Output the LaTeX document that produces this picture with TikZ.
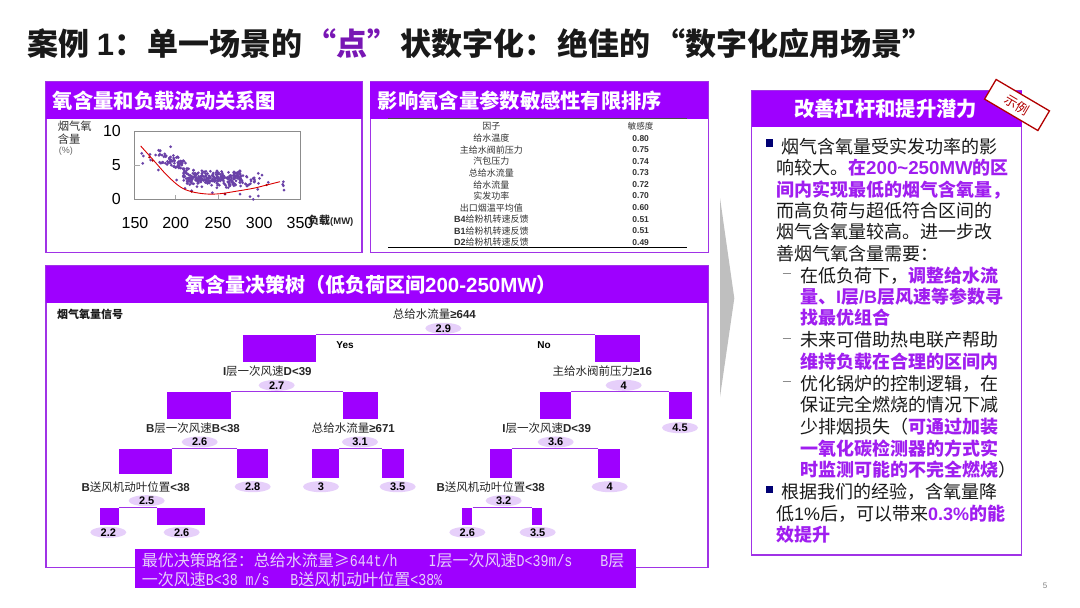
\documentclass[tikz,border=0pt]{standalone}
\usepackage{fontspec}
\usepackage{xcolor}
\usepackage{tikz}
\usetikzlibrary{shapes.geometric, positioning}
\setmainfont{Noto Sans CJK SC}
\newfontfamily\latfont{Liberation Sans}
\newfontfamily\pathfont[FakeStretch=0.8]{Liberation Mono}
\newcommand{\lat}[1]{{\latfont #1}}
\newcommand{\pth}[1]{{\pathfont\fsz{16.6}#1}}
\newcommand{\fsz}[1]{\fontsize{#1}{#1}\selectfont}
\newcommand{\hl}[1]{\textcolor{hlpurple}{\bfseries #1}}
\definecolor{brandpurple}{HTML}{9E00FF}
\definecolor{hlpurple}{HTML}{A01EF0}
\definecolor{edgepurple}{HTML}{A033E6}
\definecolor{ovalfill}{HTML}{E6CFFA}
\definecolor{dotpurple}{HTML}{6A42A8}

\begin{document}
\begin{tikzpicture}[x=1pt, y=-1pt,
            panelbox/.style ={rectangle, draw=edgepurple, line width=1.5pt, fill=white, inner sep=0pt},
            panelhead/.style={rectangle, fill=brandpurple, inner sep=0pt},
            headtext/.style ={text=white, font=\fsz{20.3}\bfseries, inner sep=0pt},
            barbox/.style   ={rectangle, fill=brandpurple, inner sep=0pt},
            link/.style     ={draw=edgepurple, line width=0.8pt},
            valoval/.style  ={ellipse, fill=ovalfill, minimum width=36pt, minimum height=11pt, inner sep=0pt, font=\fsz{11}\latfont\bfseries},
            splitlabel/.style={inner sep=0pt, font=\fsz{11.5}, text=black!85},
            tabletext/.style={inner sep=0pt, font=\fsz{9}, text=black!80},
            bodyline/.style ={anchor=west, inner sep=0pt, font=\fsz{18}, text=black!90, text height=16pt, text depth=2.4pt},
            axisnum/.style  ={inner sep=0pt, font=\fsz{16}\latfont}
        ]
            \useasboundingbox (0,0) rectangle (1080,608);

            % --- Titulo ---
            \node[anchor=west, inner sep=0pt, font=\fsz{31}\bfseries, text=black!90] (maintitle) at (27.5,44)
                {案例 \lat{1}：\hspace{2pt}单一场景的\hspace{3pt}\textcolor{hlpurple!75!black}{“点”}\hspace{2.7pt}状数字化：\hspace{2pt}绝佳的\hspace{4pt}“数字化应用场景”};

            % --- Paneles ---
            \node[panelbox, minimum width=316pt, minimum height=170.5pt] (chartpanel) at (204,167) {};
            \node[panelhead, minimum width=316pt, minimum height=37pt] (charthead) at (204,100.3) {};
            \node[headtext, anchor=west] (charttitle) at (52.7,100.5) {氧含量和负载波动关系图};

            \node[panelbox, minimum width=338pt, minimum height=170.5pt] (tablepanel) at (539.3,167) {};
            \node[panelhead, minimum width=338pt, minimum height=37pt] (tablehead) at (539.3,100.3) {};
            \node[headtext, anchor=west] (tabletitle) at (377.7,100.5) {影响氧含量参数敏感性有限排序};

            \node[panelbox, minimum width=662pt, minimum height=301.3pt] (treepanel) at (377,416.7) {};
            \node[panelhead, minimum width=662pt, minimum height=37.3pt] (treehead) at (377,284.7) {};
            \node[headtext, font=\fsz{20}\bfseries] (treetitle) at (371,285) {氧含量决策树（低负荷区间\lat{\fsz{20.5}200-250MW}）};

            \node[panelbox, minimum width=270pt, minimum height=464.3pt] (leverpanel) at (886.7,322.9) {};
            \node[panelhead, minimum width=270pt, minimum height=36.6pt] (leverhead) at (886.7,109) {};
            \node[headtext] (levertitle) at (885.7,109) {改善杠杆和提升潜力};

            % --- Flecha ---
            \fill[black!25] (720,198) -- (734.3,298.3) -- (720,397) -- cycle;

            % --- Grafico ---
            \node[rectangle, draw=black!45, line width=0.9pt, minimum width=166.4pt, minimum height=68.3pt, inner sep=0pt] (plotframe) at (217.5,165.2) {};
            \draw[black!35, line width=0.8pt] (134.3,165.3) -- (140,165.3);
            \draw[black!35, line width=0.8pt] (175.7,199.3) -- (175.7,194.5);
            \draw[black!35, line width=0.8pt] (218,199.3) -- (218,194.5);

            \pgfmathsetseed{1234}
            % nube izquierda
            \foreach \i in {1,...,70}{
                \pgfmathsetmacro{\zx}{127+42*rand}
                \pgfmathsetmacro{\zy}{95+(\zx-85)*0.35+20*rand}
                \fill[dotpurple] (130+\zx/3,125+\zy/3) circle (1.5);
            }
            % nube central
            \foreach \i in {1,...,270}{
                \pgfmathsetmacro{\zx}{250+90*rand}
                \pgfmathsetmacro{\zy}{157+(\zx-160)*0.02+16*rand+14*rand}
                \fill[dotpurple] (130+\zx/3,125+\zy/3) circle (1.5);
            }
            % nube derecha
            \foreach \i in {1,...,18}{
                \pgfmathsetmacro{\zx}{365+28*rand}
                \pgfmathsetmacro{\zy}{170+16*rand}
                \fill[dotpurple] (130+\zx/3,125+\zy/3) circle (1.5);
            }
            % puntos sueltos
            \foreach \zx/\zy in {122/65, 35/85, 40/93, 60/88, 62/105, 38/115, 77/90, 85/135, 140/165, 165/190, 185/197, 247/203,
                                 285/207, 330/207, 360/215, 370/223, 385/213, 383/193, 460/170, 460/182, 462/195, 458/178, 415/172, 396/150, 385/145}{
                \fill[dotpurple] (130+\zx/3,125+\zy/3) circle (1.5);
            }
            \draw[red!85!black, line width=0.9pt] plot[smooth, tension=0.6] coordinates
                {(140.7,146) (153.3,160) (166.7,175) (180,186.7) (191.7,191.7) (206.7,194) (220,193.7) (233.3,191.7) (253.3,188.3) (266.7,185) (280,181.7)};
            \foreach \zx/\zy in {58/97, 68/107, 185/200, 285/207, 410/180}{
                \fill[red!70!black] (130+\zx/3,125+\zy/3) circle (1.2);
            }

            % --- Ejes del grafico ---
            \node[axisnum, anchor=east] (ytick10) at (121,130.7) {10};
            \node[axisnum, anchor=east] (ytick5)  at (121,165.3) {5};
            \node[axisnum, anchor=east] (ytick0)  at (121,199.3) {0};
            \node[axisnum] (xtick150) at (135,222.7)   {150};
            \node[axisnum] (xtick200) at (175.7,222.7) {200};
            \node[axisnum] (xtick250) at (218,222.7)   {250};
            \node[axisnum] (xtick300) at (259.3,222.7) {300};
            \node[axisnum] (xtick350) at (300,222.7)   {350};
            \node[inner sep=0pt, anchor=west, font=\fsz{11.3}, text=black!80] (ylabela) at (57.7,126.7) {烟气氧};
            \node[inner sep=0pt, anchor=west, font=\fsz{11.3}, text=black!80] (ylabelb) at (57.7,139.3) {含量};
            \node[inner sep=0pt, anchor=west, font=\fsz{9}\latfont, text=black!60] (ylabelc) at (58.7,151) {(\%)};
            \node[inner sep=0pt, anchor=west, font=\fsz{11}\bfseries, text=black!85] (xlabel) at (308,220.7) {负载\lat{\fsz{9.5}(MW)}};

            % --- Tabla ---
            \draw[black!70, line width=0.9pt] (388.3,118.6) -- (687,118.6);
            \draw[black, line width=0.9pt] (388.3,247.7) -- (687,247.7);
            \foreach \n/\rowy/\factor/\val in {
                0/126/{因子}/{敏感度},
                1/138.3/{给水温度}/0.80,
                2/150/{主给水阀前压力}/0.75,
                3/161.3/{汽包压力}/0.74,
                4/173/{总给水流量}/0.73,
                5/184.7/{给水流量}/0.72,
                6/196/{实发功率}/0.70,
                7/207.7/{出口烟温平均值}/0.60,
                8/219.3/{\lat{\bfseries B4}给粉机转速反馈}/0.51,
                9/230.7/{\lat{\bfseries B1}给粉机转速反馈}/0.51,
                10/242.3/{\lat{\bfseries D2}给粉机转速反馈}/0.49}{
                \node[tabletext] (factor\n) at (491.3,\rowy) {\factor};
                \node[tabletext, font=\fsz{8.5}] (score\n) at (640.7,\rowy) {\ifnum\n=0 \val\else\lat{\bfseries\val}\fi};
            }

            % --- Arbol de decision ---
            \node[inner sep=0pt, anchor=west, font=\fsz{11}\bfseries, text=black!90] (signal) at (57,314) {烟气氧量信号};

            \node[barbox, minimum width=72.7pt, minimum height=27.6pt] (yesbar) at (279.7,348.5) {};
            \node[barbox, minimum width=44.7pt, minimum height=27.6pt] (nobar)  at (617.7,348.5) {};
            \draw[link] (yesbar.north east) -- (nobar.north west);
            \node[splitlabel] (rootlabel) at (434.3,314) {总给水流量\lat{\bfseries ≥644}};
            \node[valoval] (rootval) at (443.3,328.3) {2.9};
            \node[inner sep=0pt, font=\fsz{10}\latfont\bfseries] (yestext) at (345,345.3) {Yes};
            \node[inner sep=0pt, font=\fsz{10}\latfont\bfseries] (notext)  at (544,345.3) {No};

            % rama Yes
            \node[splitlabel] (lbla) at (267.3,371) {\lat{\bfseries I}层一次风速\lat{\bfseries D<39}};
            \node[valoval] (vala) at (276.7,385.3) {2.7};
            \node[barbox, minimum width=64pt, minimum height=27.3pt] (barab) at (198.7,405.3) {};
            \node[barbox, minimum width=35pt, minimum height=27.3pt] (barac) at (360.8,405.3) {};
            \draw[link] (barab.north east) -- (barac.north west);

            \node[splitlabel] (lblb) at (193,427.7) {\lat{\bfseries B}层一次风速\lat{\bfseries B<38}};
            \node[valoval] (valb) at (199.7,442) {2.6};
            \node[barbox, minimum width=52.7pt, minimum height=25.6pt] (barbb) at (145.3,461.5) {};
            \node[barbox, minimum width=31.3pt, minimum height=29.6pt] (barbc) at (252.7,463.5) {};
            \draw[link] (barbb.north east) -- (barbc.north west);
            \node[valoval] (valbc) at (252.7,486.7) {2.8};

            \node[splitlabel] (lblc) at (353.3,427.7) {总给水流量\lat{\bfseries ≥671}};
            \node[valoval] (valc) at (360,442) {3.1};
            \node[barbox, minimum width=26.7pt, minimum height=29.6pt] (barcb) at (325.3,463.5) {};
            \node[barbox, minimum width=22pt, minimum height=29.6pt] (barcc) at (393.3,463.5) {};
            \draw[link] (barcb.north east) -- (barcc.north west);
            \node[valoval] (valcb) at (321,486.7) {3};
            \node[valoval] (valcc) at (397.7,486.7) {3.5};

            \node[splitlabel] (lbld) at (135.7,486.7) {\lat{\bfseries B}送风机动叶位置\lat{\bfseries <38}};
            \node[valoval] (vald) at (146.7,500.7) {2.5};
            \node[barbox, minimum width=19.3pt, minimum height=17pt] (bardb) at (109.3,516.2) {};
            \node[barbox, minimum width=48.3pt, minimum height=17pt] (bardc) at (181.2,516.2) {};
            \draw[link] (bardb.north east) -- (bardc.north west);
            \node[valoval] (valdb) at (108.3,532.3) {2.2};
            \node[valoval] (valdc) at (181.7,532.3) {2.6};

            % rama No
            \node[splitlabel] (lble) at (602.3,371) {主给水阀前压力\lat{\bfseries ≥16}};
            \node[valoval] (vale) at (623.7,385.3) {4};
            \node[barbox, minimum width=30.7pt, minimum height=27.3pt] (bareb) at (555.7,405.3) {};
            \node[barbox, minimum width=23pt, minimum height=27.3pt] (barec) at (680.5,405.3) {};
            \draw[link] (bareb.north east) -- (barec.north west);
            \node[valoval] (valec) at (680,427.7) {4.5};

            \node[splitlabel] (lblf) at (546.7,427.7) {\lat{\bfseries I}层一次风速\lat{\bfseries D<39}};
            \node[valoval] (valf) at (555.7,442) {3.6};
            \node[barbox, minimum width=21.7pt, minimum height=29.6pt] (barfb) at (500.8,463.5) {};
            \node[barbox, minimum width=21.7pt, minimum height=29.6pt] (barfc) at (608.8,463.5) {};
            \draw[link] (barfb.north east) -- (barfc.north west);
            \node[valoval] (valfc) at (609.7,486.7) {4};

            \node[splitlabel] (lblg) at (490.7,486.7) {\lat{\bfseries B}送风机动叶位置\lat{\bfseries <38}};
            \node[valoval] (valg) at (503.7,500.7) {3.2};
            \node[barbox, minimum width=10.6pt, minimum height=17pt] (bargb) at (467,516.2) {};
            \node[barbox, minimum width=10.6pt, minimum height=17pt] (bargc) at (537,516.2) {};
            \draw[link] (bargb.north east) -- (bargc.north west);
            \node[valoval] (valgb) at (467.3,532.3) {2.6};
            \node[valoval] (valgc) at (537.7,532.3) {3.5};

            % --- Ruta optima ---
            \node[panelhead, minimum width=500.7pt, minimum height=39.6pt] (pathbox) at (385.3,568.5) {};
            \node[anchor=west, inner sep=0pt, text=ovalfill, font=\fsz{16}] (pathone) at (141.7,560)
                {最优决策路径：总给水流量≥\pth{644t/h}\hspace{31pt}\pth{I}层一次风速\pth{D<39m/s}\hspace{28pt}\pth{B}层};
            \node[anchor=west, inner sep=0pt, text=ovalfill, font=\fsz{16}] (pathtwo) at (141.7,579)
                {一次风速\pth{B<38 m/s}\hspace{20.7pt}\pth{B}送风机动叶位置\pth{<38\%}};

            % --- Texto derecho ---
            \fill[blue!45!black] (766,139.3) rectangle (773.3,146.7);
            \fill[blue!45!black] (766,485.5) rectangle (773.3,492.8);
            \node[bodyline] (linea) at (781,146.7) {烟气含氧量受实发功率的影};
            \node[bodyline] (lineb) at (776,167.7) {响较大。\hl{在\lat{\fsz{18.7}200\textasciitilde250MW}的区}};
            \node[bodyline] (linec) at (776,189.3) {\hl{间内实现最低的烟气含氧量，}};
            \node[bodyline] (lined) at (776,211)   {而高负荷与超低符合区间的};
            \node[bodyline] (linee) at (776,231.7) {烟气含氧量较高。进一步改};
            \node[bodyline] (linef) at (776,253.3) {善烟气氧含量需要：};
            \node[bodyline] (lineg) at (800,276)   {在低负荷下，\hl{调整给水流}};
            \node[bodyline] (lineh) at (800,296.7) {\hl{量、\lat{I}层\lat{/B}层风速等参数寻}};
            \node[bodyline] (linei) at (800,317.3) {\hl{找最优组合}};
            \node[bodyline] (linej) at (800,340)   {未来可借助热电联产帮助};
            \node[bodyline] (linek) at (800,361.7) {\hl{维持负载在合理的区间内}};
            \node[bodyline] (linel) at (800,383.3) {优化锅炉的控制逻辑，在};
            \node[bodyline] (linem) at (800,405)   {保证完全燃烧的情况下减};
            \node[bodyline] (linen) at (800,426.7) {少排烟损失（\hl{可通过加装}};
            \node[bodyline] (lineo) at (800,448.3) {\hl{一氧化碳检测器的方式实}};
            \node[bodyline] (linep) at (800,470)   {\hl{时监测可能的不完全燃烧}）};
            \node[bodyline] (lineq) at (781,491.7) {根据我们的经验，含氧量降};
            \node[bodyline] (liner) at (776,513.3) {低\lat{1\%}后，可以带来\hl{\lat{0.3\%}的能}};
            \node[bodyline] (lines) at (776,535)   {\hl{效提升}};
            \foreach \dashy in {273,338,381}{
                \draw[black!45, line width=0.8pt] (782.7,\dashy) -- (790.7,\dashy);
            }

            % --- Sello ---
            \node[rectangle, rotate=-30.5, draw=red!70!black, line width=1.3pt, fill=white,
                  minimum width=61.9pt, minimum height=22.8pt, inner sep=0pt, text=red!70!black, font=\fsz{13}] (stamp) at (1017,105) {示例};

            % --- Numero de pagina ---
            \node[inner sep=0pt, font=\fsz{8}\latfont, text=black!50] (pagenum) at (1045,586) {5};
        \end{tikzpicture}
\end{document}
